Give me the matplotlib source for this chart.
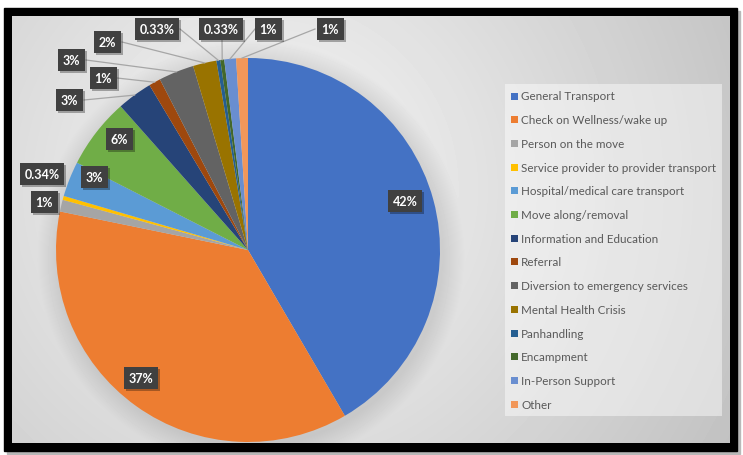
import numpy as np
import matplotlib.pyplot as plt
from matplotlib.patches import Rectangle
from matplotlib import patheffects

# call types and their share of all calls (%)
categories = ['General Transport', 'Check on Wellness/wake up', 'Person on the move',
              'Service provider to provider transport', 'Hospital/medical care transport',
              'Move along/removal', 'Information and Education', 'Referral',
              'Diversion to emergency services', 'Mental Health Crisis', 'Panhandling',
              'Encampment', 'In-Person Support', 'Other']
shares = [42, 37, 1, 0.34, 3, 6, 3, 1, 3, 2, 0.33, 0.33, 1, 1]
colors = ['#4472C4', '#ED7D31', '#A5A5A5', '#FFC000', '#5B9BD5', '#70AD47', '#264478',
          '#9E480E', '#636363', '#997300', '#255E91', '#43682B', '#698ED0', '#F1975A']

# where each data label box sits (pixels from top-left)
label_pos = [(405, 202), (141, 379), (44, 203), (42, 175), (94, 178), (119, 140),
             (69, 101), (103, 79), (71, 61), (107, 43), (157, 30), (221, 30),
             (268, 30), (330, 30)]
# leader lines for the small outer labels: start point of each line
leader_start = {6: (84, 101), 7: (117, 79), 8: (86, 61), 9: (122, 43),
                10: (180, 30), 11: (222, 41), 12: (255, 30), 13: (315, 30)}

W, H = 743, 456
plt.rcParams['font.family'] = ['Lato', 'DejaVu Sans']

fig = plt.figure(figsize=(W / 100, H / 100), dpi=100)
ax = fig.add_axes([0, 0, 1, 1])


def py(y):
    return H - y


# frame with a drop shadow
ax.add_patch(Rectangle((7, py(455)), 733, 443, color='#b8b8b8', zorder=0))
ax.add_patch(Rectangle((4, py(452)), 733, 443, color='black', zorder=1))

# radial gradient chart area + soft shadow around the pie
cx, cy, R = 248, 251, 192
x0, x1, y0, y1 = 12, 730, 17, 444
xx, yy = np.meshgrid(np.arange(x0, x1) + 0.5, np.arange(y0, y1) + 0.5)
bg = 0.97 - 0.20 * np.clip(np.hypot(xx - 270, yy - 190) / 500, 0, 1.3)
rr = np.hypot(xx - (cx + 3), yy - (cy + 4))
bg -= 0.09 * np.clip(1 - (rr - R) / 22, 0, 1)
ax.imshow(bg, cmap='gray', vmin=0, vmax=1, extent=(x0, x1, py(y1), py(y0)),
          origin='upper', interpolation='bilinear', zorder=2)

wedges, _ = ax.pie(shares, colors=colors, startangle=90, counterclock=False,
                   center=(cx, py(cy)), radius=R, wedgeprops=dict(linewidth=0))
for w in wedges:
    w.set_zorder(3)

# leader lines
for i, (sx, sy) in leader_start.items():
    w = wedges[i]
    mid = np.deg2rad((w.theta1 + w.theta2) / 2)
    ex, ey = cx + R * np.cos(mid), py(cy) + R * np.sin(mid)
    ax.plot([sx, ex], [py(sy), ey], color='#a6a6a6', lw=0.9, zorder=4)

# data labels
shadow = [patheffects.withSimplePatchShadow(offset=(1.5, -1.5), shadow_rgbFace='black',
                                            alpha=0.3)]
for i, (lx, ly) in enumerate(label_pos):
    t = ax.text(lx, py(ly), f'{shares[i]:g}%', ha='center', va='center', color='white',
                fontsize=9, fontweight='bold', zorder=6,
                bbox=dict(boxstyle='square,pad=0.38', fc='#404040', ec='none'))
    t.get_bbox_patch().set_path_effects(shadow)

# legend
ax.add_patch(Rectangle((505, py(417)), 217, 332, fc='white', ec='none', alpha=0.45, zorder=3))
for i, name in enumerate(categories):
    yc = 97 + 23.7 * i
    ax.add_patch(Rectangle((511, py(yc) - 3.5), 7, 7, fc=colors[i], ec='none', zorder=4))
    ax.text(521, py(yc), name, ha='left', va='center', color='#595959',
            fontsize=8.4, zorder=4)

ax.set_xlim(0, W)
ax.set_ylim(0, H)
ax.set_aspect('auto')
ax.axis('off')
fig.savefig('out.png', dpi=100, facecolor='white')
